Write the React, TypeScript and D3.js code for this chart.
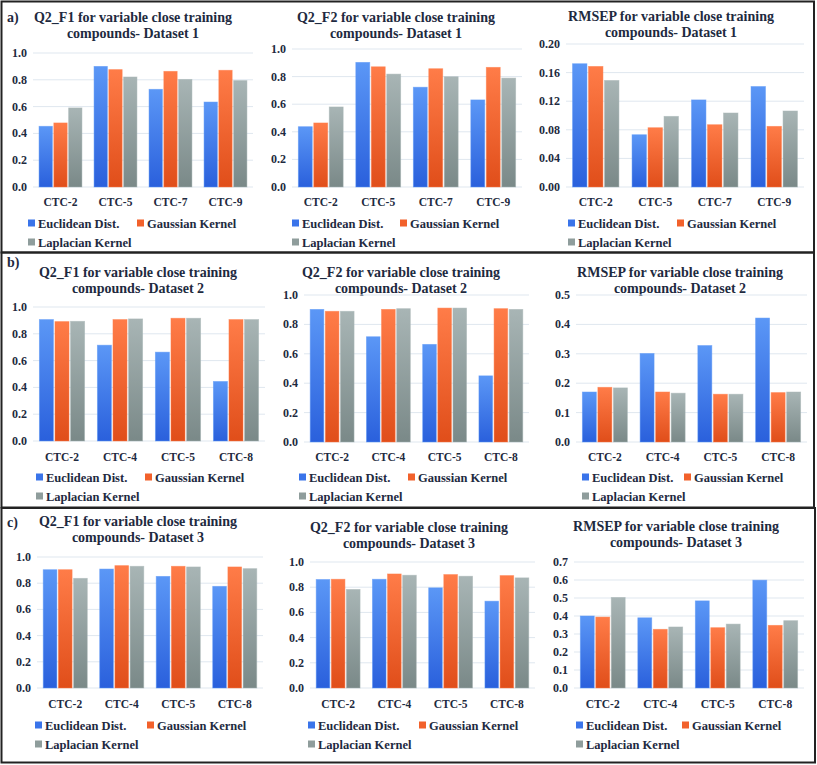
import React from "react";
import * as d3 from "d3";

// ---------- DATA ----------
const seriesNames = ["Euclidean Dist.", "Gaussian Kernel", "Laplacian Kernel"];

const catsA = ["CTC-2", "CTC-5", "CTC-7", "CTC-9"];
const catsBC = ["CTC-2", "CTC-4", "CTC-5", "CTC-8"];

// Dataset 1
const a1Euclid = [0.453, 0.9, 0.729, 0.634];
const a1Gauss = [0.478, 0.876, 0.863, 0.871];
const a1Lap = [0.59, 0.821, 0.803, 0.794];

const a2Euclid = [0.437, 0.903, 0.723, 0.631];
const a2Gauss = [0.464, 0.871, 0.857, 0.867];
const a2Lap = [0.58, 0.818, 0.799, 0.789];

const a3Euclid = [0.1724, 0.0731, 0.1218, 0.1405];
const a3Gauss = [0.1686, 0.0829, 0.0871, 0.0848];
const a3Lap = [0.149, 0.0988, 0.1035, 0.1063];

// Dataset 2
const b1Euclid = [0.906, 0.715, 0.663, 0.444];
const b1Gauss = [0.891, 0.906, 0.916, 0.906];
const b1Lap = [0.893, 0.911, 0.916, 0.906];

const b2Euclid = [0.902, 0.716, 0.664, 0.45];
const b2Gauss = [0.889, 0.902, 0.911, 0.907];
const b2Lap = [0.889, 0.907, 0.911, 0.902];

const b3Euclid = [0.17, 0.301, 0.328, 0.4216];
const b3Gauss = [0.186, 0.17, 0.1625, 0.168];
const b3Lap = [0.184, 0.166, 0.1625, 0.17];

// Dataset 3
const c1Euclid = [0.903, 0.908, 0.852, 0.776];
const c1Gauss = [0.903, 0.934, 0.929, 0.924];
const c1Lap = [0.837, 0.929, 0.924, 0.911];

const c2Euclid = [0.861, 0.863, 0.795, 0.689];
const c2Gauss = [0.863, 0.905, 0.9, 0.892];
const c2Lap = [0.782, 0.895, 0.887, 0.874];

const c3Euclid = [0.4, 0.39, 0.484, 0.599];
const c3Gauss = [0.394, 0.326, 0.335, 0.348];
const c3Lap = [0.503, 0.339, 0.355, 0.374];

const ticksQ = [0, 0.2, 0.4, 0.6, 0.8, 1.0];
const ticksA3 = [0, 0.04, 0.08, 0.12, 0.16, 0.2];
const ticksB3 = [0, 0.1, 0.2, 0.3, 0.4, 0.5];
const ticksC3 = [0, 0.1, 0.2, 0.3, 0.4, 0.5, 0.6, 0.7];

const titlesQ2F1 = "Q2_F1 for variable close training";
const titlesQ2F2 = "Q2_F2 for variable close training";
const titlesRMSEP = "RMSEP for variable close training";

// ---------- LAYOUT / STYLE ----------
const W = 817;
const H = 765;
const TEXT = "#1e2a40";
const FONT = '"Liberation Serif", serif';
const gradColors = [
  ["#5b97f6", "#2a60dc"],
  ["#ff7c48", "#e04e1a"],
  ["#a8b5b5", "#7a8988"],
];
const solidColors = ["#3a74ea", "#f2612b", "#8f9d9c"];

type Panel = {
  label?: string;
  title1: string;
  title2: string;
  cats: string[];
  series: number[][];
  ticks: number[];
  fmt: string;
  left: number;
  right: number;
  y0: number;
  yTop: number;
  titleX: number;
  titleY: number;
  catY: number;
  legY: number;
  legX: number;
  legX2: number;
  labelX?: number;
  labelY?: number;
};

const panels: Panel[] = [
  { label: "a)", labelX: 7, labelY: 22, title1: titlesQ2F1, title2: "compounds- Dataset 1", cats: catsA, series: [a1Euclid, a1Gauss, a1Lap], ticks: ticksQ, fmt: ".1f", left: 33, right: 253, y0: 187, yTop: 53, titleX: 133, titleY: 22, catY: 206, legY: 223, legX: 28, legX2: 137 },
  { title1: titlesQ2F2, title2: "compounds- Dataset 1", cats: catsA, series: [a2Euclid, a2Gauss, a2Lap], ticks: ticksQ, fmt: ".1f", left: 292, right: 522, y0: 187, yTop: 49, titleX: 396, titleY: 22, catY: 206, legY: 223, legX: 292, legX2: 400 },
  { title1: titlesRMSEP, title2: "compounds- Dataset 1", cats: catsA, series: [a3Euclid, a3Gauss, a3Lap], ticks: ticksA3, fmt: ".2f", left: 566, right: 804, y0: 187, yTop: 44, titleX: 671, titleY: 21, catY: 206, legY: 223, legX: 568, legX2: 677 },
  { label: "b)", labelX: 7, labelY: 267, title1: titlesQ2F1, title2: "compounds- Dataset 2", cats: catsBC, series: [b1Euclid, b1Gauss, b1Lap], ticks: ticksQ, fmt: ".1f", left: 33, right: 265, y0: 441, yTop: 307, titleX: 138, titleY: 277, catY: 461, legY: 477, legX: 36, legX2: 145 },
  { title1: titlesQ2F2, title2: "compounds- Dataset 2", cats: catsBC, series: [b2Euclid, b2Gauss, b2Lap], ticks: ticksQ, fmt: ".1f", left: 304, right: 529, y0: 442, yTop: 295, titleX: 401, titleY: 277, catY: 461, legY: 477, legX: 299, legX2: 408 },
  { title1: titlesRMSEP, title2: "compounds- Dataset 2", cats: catsBC, series: [b3Euclid, b3Gauss, b3Lap], ticks: ticksB3, fmt: ".1f", left: 576, right: 807, y0: 442, yTop: 295, titleX: 680, titleY: 277, catY: 461, legY: 477, legX: 582, legX2: 684 },
  { label: "c)", labelX: 7, labelY: 527, title1: titlesQ2F1, title2: "compounds- Dataset 3", cats: catsBC, series: [c1Euclid, c1Gauss, c1Lap], ticks: ticksQ, fmt: ".1f", left: 37, right: 263, y0: 688, yTop: 557, titleX: 138, titleY: 526, catY: 708, legY: 725, legX: 35, legX2: 147 },
  { title1: titlesQ2F2, title2: "compounds- Dataset 3", cats: catsBC, series: [c2Euclid, c2Gauss, c2Lap], ticks: ticksQ, fmt: ".1f", left: 310, right: 535, y0: 688, yTop: 562, titleX: 409, titleY: 532, catY: 708, legY: 725, legX: 308, legX2: 419 },
  { title1: titlesRMSEP, title2: "compounds- Dataset 3", cats: catsBC, series: [c3Euclid, c3Gauss, c3Lap], ticks: ticksC3, fmt: ".1f", left: 574, right: 804, y0: 688, yTop: 562, titleX: 676, titleY: 531, catY: 708, legY: 725, legX: 576, legX2: 682 },
];

const boxes = [
  { x: 1.5, y: 1.5, w: 812.5, h: 251 },
  { x: 1.5, y: 252.5, w: 812.5, h: 255 },
  { x: 1.5, y: 508, w: 813.5, h: 254.5 },
];

const txt = { fontFamily: FONT, fontWeight: 700 as const };

function ChartPanel({ p }: { p: Panel }) {
  const yMax = p.ticks[p.ticks.length - 1];
  const y = d3.scaleLinear().domain([0, yMax]).range([p.y0, p.yTop]);
  const x0 = d3.scaleBand<string>().domain(p.cats).range([p.left, p.right]).paddingInner(0.22).paddingOuter(0.11);
  const x1 = d3.scaleBand<number>().domain([0, 1, 2]).range([0, x0.bandwidth()]).paddingInner(0.1);
  const fmt = d3.format(p.fmt);
  const legRowH = 19;
  return (
    <g>
      {p.label && (
        <text x={p.labelX} y={p.labelY} fontSize={14} style={txt} fill={TEXT}>{p.label}</text>
      )}
      <text x={p.titleX} y={p.titleY} textAnchor="middle" fontSize={14} style={txt} fill={TEXT}>{p.title1}</text>
      <text x={p.titleX} y={p.titleY + 16} textAnchor="middle" fontSize={14} style={txt} fill={TEXT}>{p.title2}</text>
      {p.ticks.map((t) => (
        <g key={t}>
          <line x1={p.left} x2={p.right} y1={y(t)} y2={y(t)} stroke="#dfe7ef" strokeWidth={1} />
          <text x={p.left - 6} y={y(t) + 4} textAnchor="end" fontSize={12} style={txt} fill={TEXT}>{fmt(t)}</text>
        </g>
      ))}
      {p.cats.map((c, ci) => (
        <g key={c}>
          {p.series.map((s, si) => (
            <rect
              key={si}
              x={(x0(c) ?? 0) + (x1(si) ?? 0)}
              y={y(s[ci])}
              width={x1.bandwidth()}
              height={p.y0 - y(s[ci])}
              fill={`url(#grad${si})`}
              stroke={gradColors[si][0]}
              strokeOpacity={0.6}
              strokeWidth={0.8}
            />
          ))}
          <text x={(x0(c) ?? 0) + x0.bandwidth() / 2} y={p.catY} textAnchor="middle" fontSize={11.5} style={txt} fill={TEXT}>{c}</text>
        </g>
      ))}
      {seriesNames.map((n, si) => {
        const lx = si === 1 ? p.legX2 : p.legX;
        const ly = si === 2 ? p.legY + legRowH : p.legY;
        return (
          <g key={n}>
            <rect x={lx} y={ly - 3.5} width={7} height={7} fill={solidColors[si]} />
            <text x={lx + 10} y={ly + 4.5} fontSize={12.5} style={txt} fill={TEXT}>{n}</text>
          </g>
        );
      })}
    </g>
  );
}

export default function App() {
  return (
    <svg width={W} height={H} style={{ position: "absolute", left: 0, top: 0, background: "#fff" }}>
      <defs>
        {gradColors.map((gc, i) => (
          <linearGradient key={i} id={`grad${i}`} x1="0" y1="0" x2="0" y2="1">
            <stop offset="0%" stopColor={gc[0]} />
            <stop offset="100%" stopColor={gc[1]} />
          </linearGradient>
        ))}
      </defs>
      <rect x={0} y={0} width={W} height={H} fill="#fff" />
      {boxes.map((b, i) => (
        <rect key={i} x={b.x} y={b.y} width={b.w} height={b.h} fill="none" stroke="#222" strokeWidth={2} />
      ))}
      {panels.map((p, i) => (
        <ChartPanel key={i} p={p} />
      ))}
    </svg>
  );
}
